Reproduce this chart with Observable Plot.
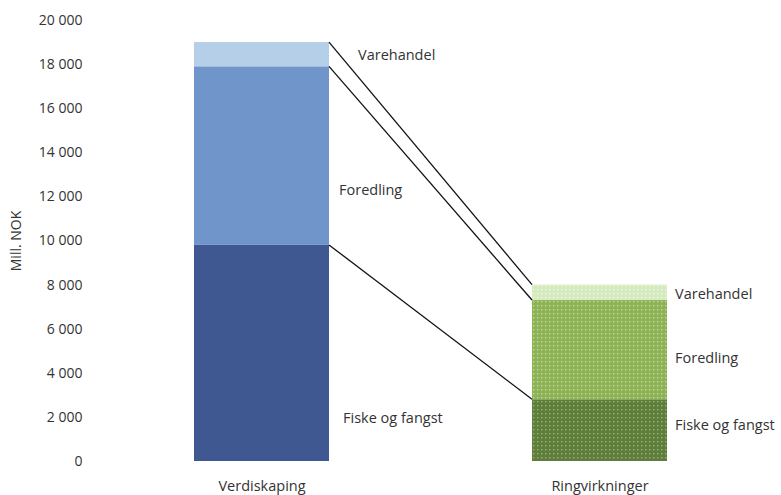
<!DOCTYPE html>
<html>
<head>
<meta charset="utf-8">
<script src="https://cdn.jsdelivr.net/npm/d3@7"></script>
<script src="https://cdn.jsdelivr.net/npm/@observablehq/plot@0.6"></script>
<style>
  html, body { margin: 0; padding: 0; background: #fff; }
  svg { display: block; }
</style>
</head>
<body>
<div id="chart"></div>
<script>
// Data
const categories = ["Verdiskaping", "Ringvirkninger"];
const segments = ["Fiske og fangst", "Foredling", "Varehandel"];
const verdiskaping = [9800, 8100, 1100];      // Fiske og fangst, Foredling, Varehandel
const ringvirkninger = [2800, 4500, 700];
const labelValuesVerdi = [1950, 12300, 18400]; // label heights (data units)
const labelValuesRing = [1650, 4700, 7600];
const yTicks = [0, 2000, 4000, 6000, 8000, 10000, 12000, 14000, 16000, 18000, 20000];
const yTitle = "Mill. NOK";

const seriesByCat = {Verdiskaping: verdiskaping, Ringvirkninger: ringvirkninger};
const labelsByCat = {Verdiskaping: labelValuesVerdi, Ringvirkninger: labelValuesRing};

const rows = [];
for (const c of categories) {
  seriesByCat[c].forEach((v, i) => rows.push({cat: c, seg: segments[i], value: v, key: c + "|" + segments[i]}));
}
const labelRows = [];
for (const c of categories) {
  labelsByCat[c].forEach((v, i) => labelRows.push({cat: c, seg: segments[i], y: v}));
}
const cum = arr => arr.map((_, i) => d3.sum(arr.slice(0, i + 1)));
const topsV = cum(verdiskaping), topsR = cum(ringvirkninger);
const links = segments.map((s, i) => ({seg: s, y1: topsV[i], y2: topsR[i]}));

const colorDomain = rows.map(d => d.key);
const colorRange = [
  "#3f5891", "#7095cb", "#b6cfe8",
  "url(#gDark)", "url(#gMid)", "url(#gLight)"
];

const fmt = d => d3.format(",")(d).replace(/,/g, "\u00a0");
const font = "Open Sans, Noto Sans, sans-serif";

function defs() {
  const ns = "http://www.w3.org/2000/svg";
  const svg = document.createElementNS(ns, "defs");
  const mk = (id, bg, dot) => {
    const p = document.createElementNS(ns, "pattern");
    p.setAttribute("id", id);
    p.setAttribute("width", 4);
    p.setAttribute("height", 4);
    p.setAttribute("patternUnits", "userSpaceOnUse");
    const r = document.createElementNS(ns, "rect");
    r.setAttribute("width", 4); r.setAttribute("height", 4); r.setAttribute("fill", bg);
    const c = document.createElementNS(ns, "rect");
    c.setAttribute("x", 1); c.setAttribute("y", 1);
    c.setAttribute("width", 1.4); c.setAttribute("height", 1.4); c.setAttribute("fill", dot);
    p.appendChild(r); p.appendChild(c);
    svg.appendChild(p);
  };
  mk("gDark", "#5f7e3c", "#98b37a");
  mk("gMid", "#8db356", "#c2da98");
  mk("gLight", "#d6eabf", "#eef7e4");
  return svg;
}

function connectors(index, scales) {
  const x = scales.x, y = scales.y;
  const ns = "http://www.w3.org/2000/svg";
  const g = document.createElementNS(ns, "g");
  const xa = x(categories[0]) + x.bandwidth();
  const xb = x(categories[1]);
  for (const l of links) {
    const line = document.createElementNS(ns, "line");
    line.setAttribute("x1", xa); line.setAttribute("y1", y(l.y1));
    line.setAttribute("x2", xb); line.setAttribute("y2", y(l.y2));
    line.setAttribute("stroke", "#111");
    line.setAttribute("stroke-width", 1.3);
    g.appendChild(line);
  }
  return g;
}

const leftDx = {"Varehandel": 96, "Foredling": 77, "Fiske og fangst": 81};

const chart = Plot.plot({
  width: 781,
  height: 495,
  marginLeft: 93,
  marginRight: 12,
  marginTop: 20,
  marginBottom: 34,
  style: {fontFamily: font, color: "#333", background: "#fff"},
  x: {domain: categories, paddingInner: 0.6, paddingOuter: 0.3, label: null},
  y: {domain: [0, 20000], ticks: yTicks, label: null},
  color: {type: "ordinal", domain: colorDomain, range: colorRange},
  marks: [
    defs,
    Plot.ruleY(yTicks, {stroke: "#e6e6e6", strokeWidth: 1, x1: 95, x2: 781}),
    Plot.barY(rows, {x: "cat", y: "value", fill: "key", order: segments, z: "seg", inset: 0}),
    connectors,
    ...segments.map(s => Plot.text(labelRows.filter(d => d.cat === categories[0] && d.seg === s), {
      x: "cat", y: "y", text: "seg", textAnchor: "start", dx: leftDx[s], fontSize: 14.5, fill: "#333"
    })),
    Plot.text(labelRows.filter(d => d.cat === categories[1]), {
      x: "cat", y: "y", text: "seg", textAnchor: "start", dx: 75, fontSize: 14.5, fill: "#333"
    }),
    Plot.axisY({ticks: yTicks, tickFormat: fmt, tickSize: 0, tickPadding: 11, fontSize: 14,
      label: yTitle, labelAnchor: "center", labelOffset: 82, labelArrow: "none"}),
    Plot.axisX({tickSize: 0, tickPadding: 19, fontSize: 14.5, label: null})
  ]
});
document.getElementById("chart").appendChild(chart);
</script>
</body>
</html>
